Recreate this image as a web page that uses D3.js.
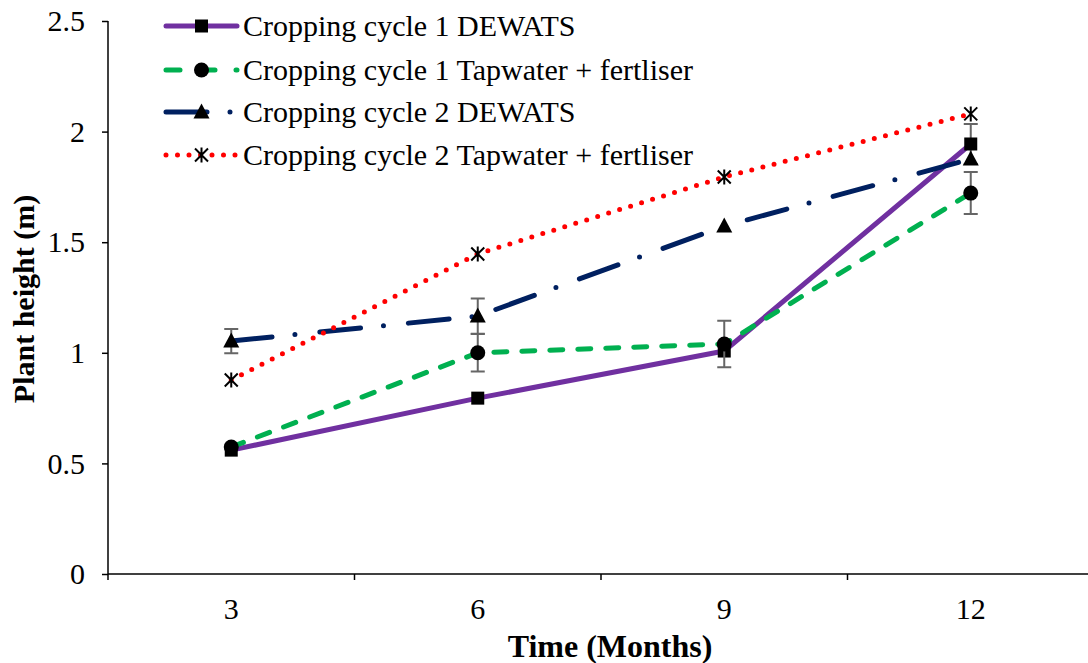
<!DOCTYPE html>
<html>
<head>
<meta charset="utf-8">
<script src="https://cdn.jsdelivr.net/npm/d3@7"></script>
<style>
  html, body { margin: 0; padding: 0; background: #fff; }
  svg { display: block; }
  text { font-family: "Liberation Serif", "Times New Roman", serif; fill: #000; }
</style>
</head>
<body>
<svg id="chart" width="1088" height="663"></svg>
<script>
// Plant height (m) by month for two cropping cycles
const months = ["3", "6", "9", "12"];
const cc1Dewats = [0.56, 0.795, 1.008, 1.944];
const cc1Tapwater = [0.574, 1.0, 1.04, 1.722];
const cc2Dewats = [1.053, 1.166, 1.573, 1.876];
const cc2Tapwater = [0.877, 1.447, 1.795, 2.08];

// Standard error of each point (null = no bar shown)
const cc1DewatsErr = [null, null, null, 0.09];
const cc1TapwaterErr = [null, 0.085, 0.105, 0.095];
const cc2DewatsErr = [0.055, 0.08, null, null];
const cc2TapwaterErr = [null, null, null, null];

const seriesNames = [
  "Cropping cycle 1 DEWATS",
  "Cropping cycle 1 Tapwater + fertliser",
  "Cropping cycle 2 DEWATS",
  "Cropping cycle 2 Tapwater + fertliser"
];
const yTicks = [0, 0.5, 1, 1.5, 2, 2.5];
const yTickLabels = ["0", "0.5", "1", "1.5", "2", "2.5"];

const series = [
  { name: seriesNames[0], values: cc1Dewats, err: cc1DewatsErr, color: "#7030A0", dash: null, marker: "square" },
  { name: seriesNames[1], values: cc1Tapwater, err: cc1TapwaterErr, color: "#00B050", dash: "13 15", marker: "circle" },
  { name: seriesNames[2], values: cc2Dewats, err: cc2DewatsErr, color: "#002060", dash: "41 23 0 25", marker: "triangle" },
  { name: seriesNames[3], values: cc2Tapwater, err: cc2TapwaterErr, color: "#FF0000", dash: "0 11.5", marker: "star" }
];

const svg = d3.select("#chart");
const plotLeft = 108, plotBottom = 574, plotTop = 21, plotRight = 1094;

const x = d3.scaleBand().domain(months).range([plotLeft, plotRight]);
const xc = m => x(m) + x.bandwidth() / 2;
const y = d3.scaleLinear().domain([0, 2.5]).range([plotBottom, plotTop]);

// Y axis
const yAxis = svg.append("g")
  .attr("transform", `translate(${plotLeft},0)`)
  .call(d3.axisLeft(y).tickValues(yTicks).tickSize(6).tickPadding(17)
    .tickFormat((d, i) => yTickLabels[i]));
yAxis.select(".domain").attr("d", `M0,${plotTop}V${plotBottom}`).attr("stroke", "#000").attr("stroke-width", 1.5);
yAxis.selectAll(".tick line").attr("stroke", "#000").attr("stroke-width", 1.5);
yAxis.selectAll(".tick text").attr("font-size", 30).attr("font-family", "Liberation Serif, serif");

// X axis with ticks on category boundaries
const xAxis = svg.append("g").attr("transform", `translate(0,${plotBottom})`);
xAxis.append("line").attr("x1", plotLeft).attr("x2", 1088).attr("y1", 0).attr("y2", 0)
  .attr("stroke", "#000").attr("stroke-width", 1.5);
const bounds = months.map(m => x(m)).concat([x.range()[1]]);
xAxis.selectAll("line.bt").data(bounds).join("line").attr("class", "bt")
  .attr("x1", d => d).attr("x2", d => d).attr("y1", 0).attr("y2", 6)
  .attr("stroke", "#000").attr("stroke-width", 1.5);
xAxis.selectAll("text.xl").data(months).join("text").attr("class", "xl")
  .attr("x", d => xc(d)).attr("y", 45).attr("text-anchor", "middle")
  .attr("font-size", 30).text(d => d);

// Axis titles
svg.append("text").attr("x", 610).attr("y", 657).attr("text-anchor", "middle")
  .attr("font-size", 32).attr("font-weight", "bold").text("Time (Months)");
svg.append("text").attr("transform", "translate(34,299) rotate(-90)").attr("text-anchor", "middle")
  .attr("font-size", 30).attr("font-weight", "bold").text("Plant height (m)");

// Marker drawing
function drawMarker(g, type, cx, cy) {
  if (type === "square") {
    g.append("rect").attr("x", cx - 6.5).attr("y", cy - 6.5).attr("width", 13).attr("height", 13).attr("fill", "#000");
  } else if (type === "circle") {
    g.append("circle").attr("cx", cx).attr("cy", cy).attr("r", 7.5).attr("fill", "#000");
  } else if (type === "triangle") {
    g.append("path").attr("d", `M${cx},${cy - 8.5}L${cx + 8},${cy + 6.5}L${cx - 8},${cy + 6.5}Z`).attr("fill", "#000");
  } else if (type === "star") {
    const s = 6.5;
    g.append("path")
      .attr("d", `M${cx - s},${cy - s}L${cx + s},${cy + s}M${cx - s},${cy + s}L${cx + s},${cy - s}M${cx},${cy - s - 1}L${cx},${cy + s + 1}`)
      .attr("stroke", "#000").attr("stroke-width", 2).attr("fill", "none");
  }
}

const line = d3.line().x((d, i) => xc(months[i])).y(d => y(d));
const plot = svg.append("g");

series.forEach(s => {
  const g = plot.append("g");
  g.append("path").datum(s.values).attr("d", line)
    .attr("fill", "none").attr("stroke", s.color).attr("stroke-width", 5)
    .attr("stroke-linecap", s.dash ? "round" : "butt").attr("stroke-linejoin", "round")
    .attr("stroke-dasharray", s.dash);
  // error bars
  s.err.forEach((e, i) => {
    if (e == null) return;
    const cx = xc(months[i]);
    const y1 = y(s.values[i] + e), y2 = y(s.values[i] - e);
    g.append("path")
      .attr("d", `M${cx},${y1}V${y2}M${cx - 7},${y1}H${cx + 7}M${cx - 7},${y2}H${cx + 7}`)
      .attr("stroke", "#666").attr("stroke-width", 2).attr("fill", "none");
  });
  s.values.forEach((v, i) => drawMarker(g, s.marker, xc(months[i]), y(v)));
});

// Legend
const legendY = [26, 70, 112, 155];
const legend = svg.append("g");
series.forEach((s, i) => {
  const ly = legendY[i];
  legend.append("line").attr("x1", 166).attr("x2", 237).attr("y1", ly).attr("y2", ly)
    .attr("stroke", s.color).attr("stroke-width", 5)
    .attr("stroke-linecap", "round")
    .attr("stroke-dasharray", i === 1 ? "14 21" : s.dash);
  drawMarker(legend, s.marker, 201.5, ly);
  legend.append("text").attr("x", 243).attr("y", ly + 10).attr("font-size", 30).text(s.name);
});
</script>
</body>
</html>
